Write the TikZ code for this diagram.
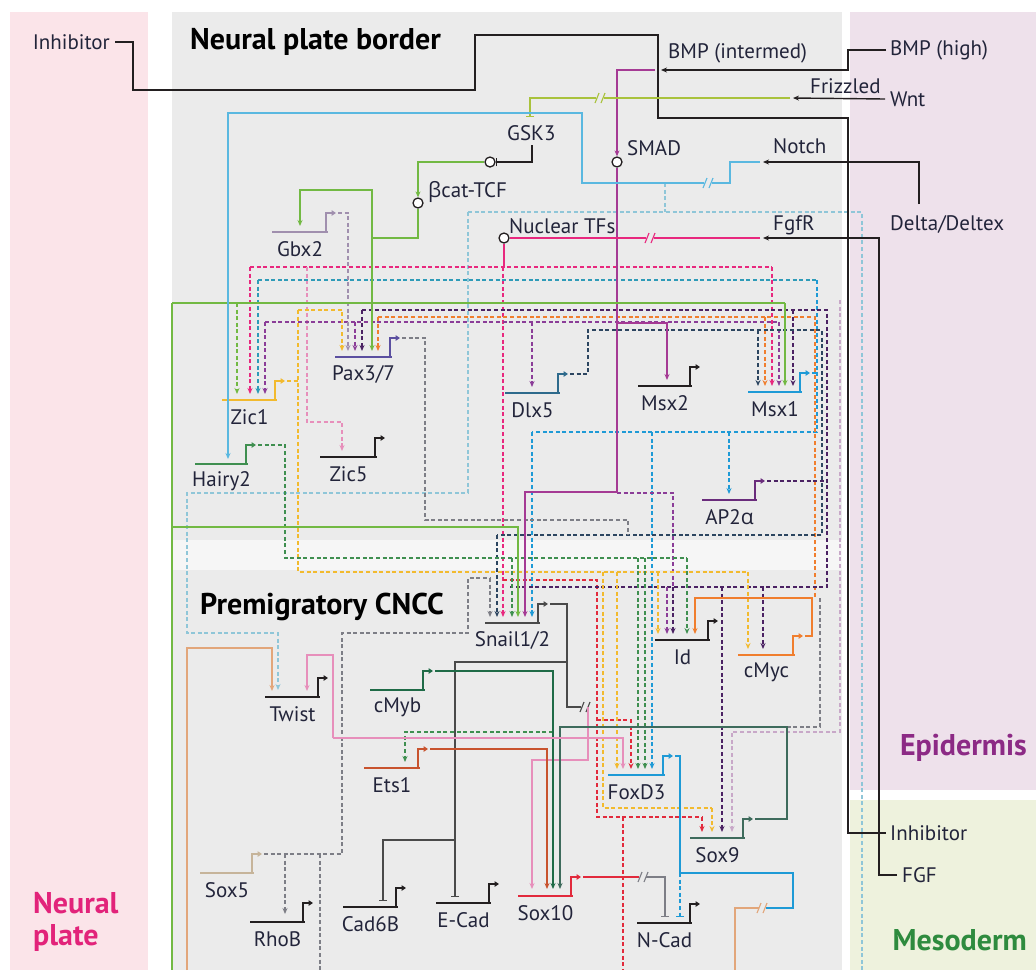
\documentclass[tikz,border=0pt]{standalone}
\usepackage{fontspec}
\setmainfont{PT Sans}
\newfontfamily\gk{Open Sans}
\usetikzlibrary{arrows.meta}
\definecolor{npbg}{HTML}{FBE4E9}
\definecolor{gbg}{HTML}{EBEBEB}
\definecolor{epbg}{HTML}{EEE1EB}
\definecolor{mebg}{HTML}{EEF2DD}
\definecolor{npc}{HTML}{E2237A}
\definecolor{epc}{HTML}{8C2A85}
\definecolor{mec}{HTML}{2E8B3E}
\definecolor{kc}{HTML}{231F20}
\definecolor{olc}{HTML}{A9C23C}
\definecolor{grc}{HTML}{72B943}
\definecolor{lbc}{HTML}{5AB8E0}
\definecolor{pkc}{HTML}{E8287E}
\definecolor{magc}{HTML}{A53A94}
\definecolor{tlc}{HTML}{2E9BB8}
\definecolor{puc}{HTML}{8B3D98}
\definecolor{dpc}{HTML}{4B2263}
\definecolor{yec}{HTML}{F2BA2E}
\definecolor{orc}{HTML}{F07E2E}
\definecolor{rdc}{HTML}{E22A3C}
\definecolor{dgc}{HTML}{3F8F50}
\definecolor{gyc}{HTML}{7D7E86}
\definecolor{gyk}{HTML}{4A4A4A}
\definecolor{nvc}{HTML}{2C4560}
\definecolor{lpc}{HTML}{E78FBB}
\definecolor{tnc}{HTML}{E2A67A}
\definecolor{slc}{HTML}{3E6B5C}
\definecolor{erc}{HTML}{C8532E}
\definecolor{gpc}{HTML}{A08FAE}
\definecolor{ltc}{HTML}{8FC6D8}
\definecolor{blc}{HTML}{1E9AD6}
\definecolor{cmbc}{HTML}{1F6B47}
\definecolor{lvc}{HTML}{C8A8C8}
\definecolor{snc}{HTML}{C6B49A}
\definecolor{labc}{HTML}{22243A}
\definecolor{paxc}{HTML}{5B4FA0}
\definecolor{dlxc}{HTML}{2E6A8C}
\definecolor{apc}{HTML}{6A2C7C}
\tikzset{
 glab/.style={font=\fontsize{21}{23}\selectfont, text=labc, inner sep=0pt},
 sig/.style={font=\fontsize{21}{23}\selectfont, text=labc, inner sep=0pt},
 ttl/.style={font=\fontsize{30}{32}\selectfont\bfseries, text=black, inner sep=0pt},
 ln/.style={line width=1.4pt},
 dl/.style={line width=1.3pt, dash pattern=on 4pt off 2.6pt},
 ar/.style={-{Stealth[length=6pt,width=5pt]}},
 inh/.style={-{Bar[width=8pt,line width=1.4pt]}},
 circ/.style={circle, draw=kc, line width=1.3pt, fill=white, minimum size=10pt, inner sep=0pt},
}
\newcommand\gn[6]{%
  \draw[line width=2.4pt,#5] (#2,#4) -- (#3,#4);
  \draw[line width=1.7pt,#5,-{Triangle[length=4.5pt,width=5.5pt]}] (#3-2,#4+1) -- (#3-2,#4-19) -- (#3+8,#4-19);
  \node[glab] (#1) at ({(#2+#3)/2},#4+17) {#6};
  \coordinate (#1-out) at (#3+10,#4-19);
}
\newcommand\brkmk[3]{%
  \fill[gbg] (#1-4,#2-3) rectangle (#1+4,#2+3);
  \draw[line width=1.1pt,#3] (#1-5,#2+5) -- (#1-1,#2-5) (#1+1,#2+5) -- (#1+5,#2-5);
}
\begin{document}
\begin{tikzpicture}[x=1pt,y=-1pt]
\useasboundingbox (0,0) rectangle (1036,970);
% backgrounds
\fill[white] (0,0) rectangle (1036,970);
\fill[npbg] (10,12) rectangle (148,970);
\fill[gbg] (172,12) rectangle (842,540);
\fill[gbg!45!white] (172,540) rectangle (842,570);
\fill[gbg] (172,570) rectangle (842,970);
\fill[epbg] (850,12) rectangle (1036,790);
\fill[mebg] (850,800) rectangle (1036,970);
% titles
\node[ttl, anchor=west] (tnpb) at (190,42) {Neural plate border};
\node[ttl, anchor=west] (tpre) at (200,607) {Premigratory CNCC};
\node[ttl, text=npc, anchor=west, align=left] (tnp) at (33,922) {Neural\\plate};
\node[ttl, text=epc, anchor=east] (tep) at (1027,748) {Epidermis};
\node[ttl, text=mec, anchor=east] (tme) at (1027,940) {Mesoderm};
% signal labels
\node[sig, anchor=east] (inhL) at (110,42) {Inhibitor};
\node[sig, anchor=west] (bmph) at (890,50) {BMP (high)};
\node[sig, anchor=west] (bmpi) at (668,53) {BMP (intermed)};
\node[sig, anchor=west] (wnt) at (890,99) {Wnt};
\node[sig, anchor=west] (friz) at (810,86) {Frizzled};
\node[sig, anchor=west] (gsk) at (507,133) {GSK3};
\node[sig, anchor=west] (smad) at (627,148) {SMAD};
\node[sig, anchor=west] (bcat) at (428,192) {{\gk β}cat-TCF};
\node[sig, anchor=west] (ntf) at (509,226) {Nuclear TFs};
\node[sig, anchor=west] (notch) at (773,146) {Notch};
\node[sig, anchor=west] (fgfr) at (773,225) {FgfR};
\node[sig, anchor=west] (delta) at (890,224) {Delta/Deltex};
\node[sig, anchor=west] (inhR) at (890,833) {Inhibitor};
\node[sig, anchor=west] (fgf) at (902,875) {FGF};
% circles
\node[circ] (cSMAD) at (617,162) {};
\node[circ] (cGSK) at (490,162) {};
\node[circ] (cBcat) at (418,203) {};
\node[circ] (cNTF) at (504,238) {};
% genes
\gn{gbx}{272}{328}{232}{gpc}{Gbx2}
\gn{pax}{335}{392}{357}{paxc}{Pax3/7}
\gn{zic1}{222}{277}{400}{yec}{Zic1}
\gn{hairy}{195}{248}{464}{dgc}{Hairy2}
\gn{zic5}{320}{377}{457}{kc}{Zic5}
\gn{dlx}{505}{560}{393}{dlxc}{Dlx5}
\gn{msx2}{638}{692}{386}{kc}{Msx2}
\gn{msx1}{748}{802}{392}{blc}{Msx1}
\gn{ap2}{702}{757}{500}{apc}{AP2{\gk α}}
\gn{snail}{485}{540}{623}{gyk}{Snail1/2}
\gn{id}{655}{710}{640}{kc}{Id}
\gn{cmyc}{738}{795}{655}{orc}{cMyc}
\gn{twist}{265}{320}{697}{kc}{Twist}
\gn{cmyb}{370}{425}{690}{cmbc}{cMyb}
\gn{ets}{364}{420}{768}{erc}{Ets1}
\gn{foxd}{608}{665}{775}{blc}{FoxD3}
\gn{sox9}{690}{745}{838}{slc}{Sox9}
\gn{sox5}{200}{254}{873}{snc}{Sox5}
\gn{rhob}{250}{305}{922}{kc}{RhoB}
\gn{cad6}{343}{398}{907}{kc}{Cad6B}
\gn{ecad}{436}{491}{903}{kc}{E-Cad}
\gn{sox10}{518}{573}{896}{rdc}{Sox10}
\gn{ncad}{637}{692}{923}{kc}{N-Cad}
% ---------- dashed connectors ----------
% Notch -> Twist (light teal)
\draw[dl,ltc] (665,183) -- (665,212);
\draw[dl,ltc] (468,212) -- (862,212) -- (862,970);
\draw[dl,ltc,ar] (468,212) -- (468,493) -- (187,493) -- (187,633) -- (278,633) -- (278,690);
% pink (Nuclear TFs)
\draw[dl,pkc] (250,267) -- (772,267);
\draw[dl,pkc,ar] (250,267) -- (250,394);
\draw[dl,lpc,ar] (307,267) -- (307,422) -- (342,422) -- (342,451);
\draw[dl,pkc,ar] (503,267) -- (503,617);
\draw[dl,pkc,ar] (772,267) -- (772,386);
\draw[dl,rdc] (503,580) -- (597,580) -- (597,817) -- (702,817);
\draw[dl,rdc,ar] (702,817) -- (702,832);
\draw[dl,rdc,ar] (597,720) -- (631,720) -- (631,769);
\draw[dl,rdc] (623,817) -- (623,970);
% teal bus (Msx1 -> Zic1)
\draw[dl,tlc] (258,280) -- (817,280);
\draw[dl,tlc,ar] (258,280) -- (258,394);
% Msx1 output (blue)
\draw[dl,blc] (msx1-out) -- (817,373);
\draw[dl,blc] (817,280) -- (817,432) -- (532,432);
\draw[dl,blc,ar] (532,432) -- (532,617);
\draw[dl,blc,ar] (652,432) -- (652,769);
\draw[dl,blc,ar] (729,432) -- (729,494);
% purple bus
\draw[dl,puc] (265,322) -- (779,322);
\draw[dl,puc,ar] (265,322) -- (265,394);
\draw[dl,puc,ar] (355,322) -- (355,351);
\draw[dl,puc,ar] (532,322) -- (532,387);
\draw[dl,puc,ar] (779,322) -- (779,386);
\draw[dl,puc] (617,493) -- (673,493) -- (673,587);
% orange (cMyc)
\draw[dl,orc] (378,317) -- (815,317) -- (815,598);
\draw[dl,orc,ar] (378,317) -- (378,351);
\draw[dl,orc,ar] (765,317) -- (765,386);
% AP2a output (dark purple)
\draw[dl,dpc] (ap2-out) -- (827,481);
\draw[dl,dpc] (362,310) -- (827,310) -- (827,587) -- (510,587);
\draw[dl,dpc,ar] (362,310) -- (362,351);
\draw[dl,dpc,ar] (793,310) -- (793,386);
\draw[dl,puc,ar] (667,587) -- (667,634);
\draw[dl,dpc,ar] (673,587) -- (673,634);
\draw[dl,dpc,ar] (763,587) -- (763,649);
\draw[dl,dpc,ar] (722,587) -- (722,832);
% Dlx5 output (navy)
\draw[dl,nvc] (dlx-out) -- (588,374) -- (588,330) -- (822,330) -- (822,535) -- (497,535);
\draw[dl,nvc,ar] (758,330) -- (758,386);
\draw[dl,nvc,ar] (497,535) -- (497,617);
% Gbx2 output
\draw[dl,gpc,ar] (gbx-out) -- (348,213) -- (348,351);
% Pax3/7 output
\draw[dl,gyc] (pax-out) -- (425,338) -- (425,520) -- (628,520) -- (628,535);
% Zic1 output (yellow)
\draw[dl,yec] (zic1-out) -- (298,381);
\draw[dl,yec] (298,310) -- (298,572) -- (748,572);
\draw[dl,yec,ar] (298,310) -- (342,310) -- (342,351);
\draw[dl,yec,ar] (748,572) -- (748,649);
\draw[dl,yec] (603,572) -- (603,808) -- (712,808);
\draw[dl,yec,ar] (712,808) -- (712,832);
\draw[dl,yec,ar] (617,572) -- (617,769);
\draw[dl,yec,ar] (658,572) -- (658,634);
% Hairy2 output (green)
\draw[dl,dgc] (hairy-out) -- (285,445) -- (285,558) -- (687,558);
\draw[dl,dgc,ar] (512,558) -- (512,617);
\draw[dl,dgc,ar] (638,558) -- (638,769);
\draw[dl,dgc,ar] (645,558) -- (645,769);
\draw[dl,dgc,ar] (687,558) -- (687,634);
\draw[dl,grc,ar] (237,303) -- (237,394);
% light purple / gray to Sox9
\draw[dl,lvc,ar] (840,300) -- (840,732) -- (732,732) -- (732,832);
\draw[dl,gyc] (820,598) -- (820,727) -- (787,727);
% Sox5 output
\draw[dl,gyc] (sox5-out) -- (342,854) -- (342,633) -- (468,633) -- (468,578) -- (490,578);
\draw[dl,gyc,ar] (490,578) -- (490,617);
\draw[dl,gyc,ar] (285,854) -- (285,914);
\draw[dl,gyc] (320,854) -- (320,970);
% green dashed to Ets1
\draw[dl,dgc,ar] (553,732) -- (405,732) -- (405,762);
% ---------- solid signalling ----------
\draw[ln,kc] ([xshift=5pt]inhL.east) -- (133,42) -- (133,90) -- (475,90) -- (475,35) -- (658,35) -- (658,118) -- (848,118) -- (848,833) -- ([xshift=-4pt]inhR.west);
\draw[ln,kc,ar] ([xshift=-4pt]bmph.west) -- (848,50) -- (848,70) -- (661,70);
\draw[ln,magc,ar] (655,70) -- (617,70) -- (cSMAD.north);
\draw[ln,magc,ar] (cSMAD.south) -- (617,492) -- (525,492) -- (525,617);
\draw[ln,magc,ar] (617,323) -- (667,323) -- (667,380);
\draw[ln,kc,ar] ([xshift=-5pt]wnt.west) -- (793,98);
\draw[ln,olc,inh] (790,98) -- (530,98) -- (530,117);
\brkmk{600}{98}{olc}
\draw[ln,kc,inh] (532,145) -- (532,162) -- (cGSK.east);
\draw[ln,grc,ar] (cGSK.west) -- (418,162) -- (cBcat.north);
\draw[ln,grc] (cBcat.south) -- (418,238) -- (372,238);
\draw[ln,grc,ar] (372,238) -- (372,190) -- (300,190) -- (300,226);
\draw[ln,grc,ar] (372,238) -- (372,351);
\draw[ln,grc] (172,303) -- (785,303);
\draw[ln,grc,ar] (785,303) -- (785,386);
\draw[ln,grc] (172,303) -- (172,970);
\draw[ln,grc,ar] (172,527) -- (518,527) -- (518,617);
\draw[ln,kc,ar] (919,204) -- (919,162) -- (763,162);
\draw[ln,lbc,ar] (760,162) -- (730,162) -- (730,183) -- (582,183) -- (582,113) -- (228,113) -- (228,459);
\brkmk{708}{183}{lbc}
\draw[ln,kc,ar] ([xshift=-5pt]fgf.west) -- (879,875) -- (879,238) -- (763,238);
\draw[ln,pkc] (760,238) -- (cNTF.east);
\brkmk{650}{238}{pkc}
\draw[ln,pkc] (cNTF.south) -- (504,267);
% ---------- solid lower network ----------
\draw[ln,gyk] (snail-out) -- (567,604) -- (567,707) -- (581,707);
\brkmk{585}{707}{gyk}
\draw[ln,lpc,ar] (588,707) -- (588,760) -- (532,760) -- (532,889);
\draw[ln,gyk,inh] (567,662) -- (455,662) -- (455,897);
\draw[ln,gyk,inh] (455,840) -- (383,840) -- (383,901);
\draw[ln,cmbc,ar] (cmyb-out) -- (553,671) -- (553,889);
\draw[ln,erc,ar] (ets-out) -- (547,749) -- (547,889);
\draw[ln,slc,ar] (sox9-out) -- (787,819) -- (787,727) -- (560,727) -- (560,889);
\draw[ln,lpc,ar] (333,738) -- (333,655) -- (307,655) -- (307,691);
\draw[ln,lpc,ar] (333,738) -- (623,738) -- (623,769);
\draw[ln,tnc,ar] (187,970) -- (187,648) -- (272,648) -- (272,691);
\draw[ln,rdc] (sox10-out) -- (640,877);
\brkmk{643}{877}{gyc}
\draw[ln,gyc,inh] (646,877) -- (665,877) -- (665,917);
\draw[ln,blc] (foxd-out) -- (680,756) -- (680,873) -- (793,873) -- (793,908) -- (765,908);
\brkmk{762}{908}{tnc}
\draw[ln,tnc] (759,908) -- (735,908) -- (735,970);
\draw[dl,blc,inh] (680,873) -- (680,917);
\draw[ln,orc,ar] (cmyc-out) -- (812,636) -- (812,598) -- (695,598) -- (695,634);
\end{tikzpicture}
\end{document}
